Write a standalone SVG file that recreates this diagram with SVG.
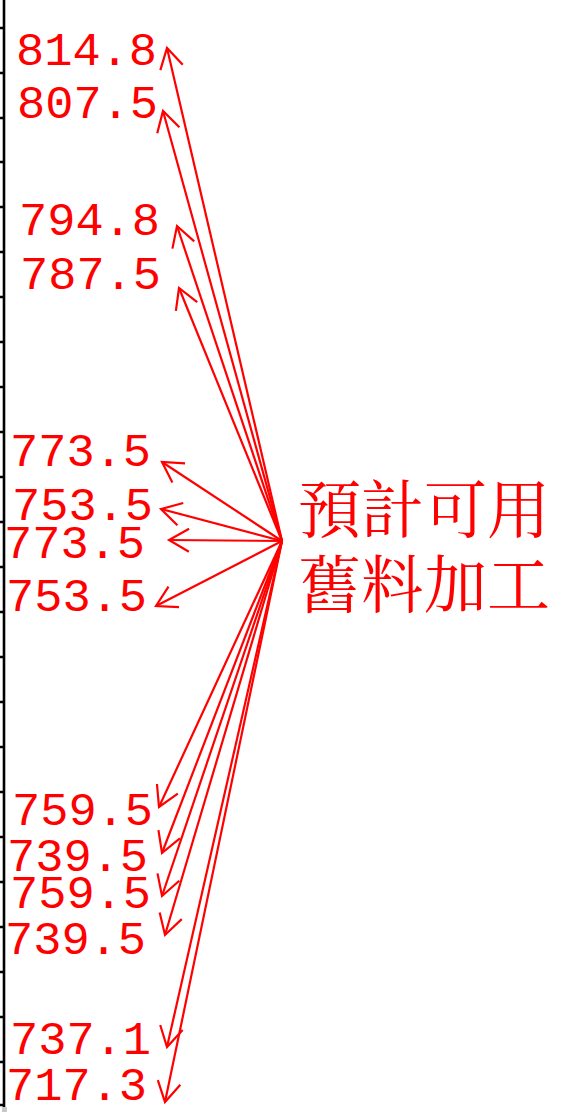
<svg xmlns="http://www.w3.org/2000/svg" width="562" height="1113" viewBox="0 0 562 1113">
<style>
.lbl{font-family:"Liberation Mono","Courier New",monospace;font-size:47px;fill:#ff0000;}
.cjk{font-family:"Noto Serif CJK TC","Noto Sans CJK TC",serif;font-size:63px;fill:#ff0000;}
.c{stroke:#ff0000;stroke-width:2.2;fill:none;marker-end:url(#ah);}
.axis{stroke:#000;stroke-width:2.6;fill:none;}
</style>
<defs>
<marker id="ah" markerUnits="userSpaceOnUse" markerWidth="30" markerHeight="30" viewBox="-25 -15 30 30" refX="0" refY="0" orient="auto">
<path d="M -20 -11.5 L 0 0 L -20 11.5" stroke="#ff0000" stroke-width="2.2" fill="none"/>
</marker>
</defs>
<rect width="562" height="1113" fill="#fff"/>
<g id="axis">
<line class="axis" x1="4" y1="0" x2="4" y2="1107"/>
<path class="axis" d="M0 28H4M0 73H4M0 118H4M0 162H4M0 207H4M0 252H4M0 297H4M0 342H4M0 387H4M0 432H4M0 477H4M0 522H4M0 567H4M0 612H4M0 657H4M0 702H4M0 747H4M0 792H4M0 837H4M0 882H4M0 927H4M0 972H4M0 1017H4M0 1062H4M0 1105H4"/>
<rect x="2" y="1107" width="5" height="5" fill="#c8c8c8"/>
</g>
<g id="connectors">
<line class="c" x1="282" y1="541" x2="167" y2="48"/>
<line class="c" x1="282" y1="541" x2="163" y2="111"/>
<line class="c" x1="282" y1="541" x2="177" y2="226"/>
<line class="c" x1="282" y1="541" x2="179" y2="288"/>
<line class="c" x1="282" y1="541" x2="162" y2="462"/>
<line class="c" x1="282" y1="541" x2="161" y2="509"/>
<line class="c" x1="282" y1="541" x2="169" y2="540"/>
<line class="c" x1="282" y1="541" x2="156" y2="606"/>
<line class="c" x1="282" y1="541" x2="159" y2="807"/>
<line class="c" x1="282" y1="541" x2="162" y2="853"/>
<line class="c" x1="282" y1="541" x2="162" y2="896"/>
<line class="c" x1="282" y1="541" x2="165" y2="935"/>
<line class="c" x1="282" y1="541" x2="167" y2="1047"/>
<line class="c" x1="282" y1="541" x2="165" y2="1102"/>
</g>
<g id="labels">
<text class="lbl" x="16" y="65">814.8</text>
<text class="lbl" x="17" y="118">807.5</text>
<text class="lbl" x="19" y="235">794.8</text>
<text class="lbl" x="20" y="289">787.5</text>
<text class="lbl" x="10" y="466">773.5</text>
<text class="lbl" x="12" y="520">753.5</text>
<text class="lbl" x="4" y="558">773.5</text>
<text class="lbl" x="6" y="611">753.5</text>
<text class="lbl" x="12" y="825">759.5</text>
<text class="lbl" x="7" y="871">739.5</text>
<text class="lbl" x="10" y="908">759.5</text>
<text class="lbl" x="5" y="954">739.5</text>
<text class="lbl" x="10" y="1054">737.1</text>
<text class="lbl" x="6" y="1100">717.3</text>
</g>
<g id="note">
<text class="cjk" x="298" y="532">預計可用</text>
<text class="cjk" x="298" y="607">舊料加工</text>
</g>
</svg>
